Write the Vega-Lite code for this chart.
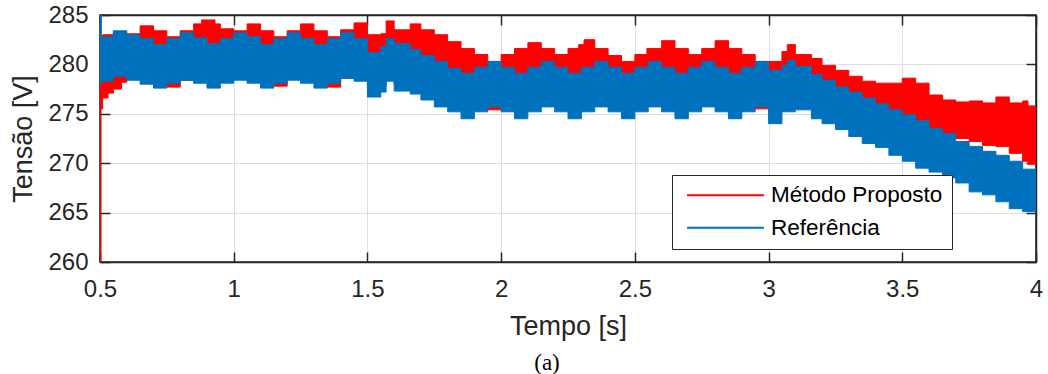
{
  "$schema": "https://vega.github.io/schema/vega-lite/v6.json",
  "width": 936,
  "height": 247,
  "autosize": {"type": "none"},
  "padding": {"left": 100, "top": 15, "right": 12, "bottom": 112},
  "background": "white",
  "title": {"text": "(a)", "orient": "bottom", "anchor": "middle", "font": "Liberation Serif", "fontSize": 23, "fontWeight": "normal", "color": "#000000", "offset": 13, "dx": -21},
  "config": {
    "view": {"stroke": "#262626", "strokeWidth": 1.5},
    "axis": {"labelFont": "Liberation Sans", "titleFont": "Liberation Sans", "labelColor": "#262626", "titleColor": "#262626", "tickColor": "#262626", "domainColor": "#262626", "domainWidth": 1.5, "tickWidth": 1.5, "gridColor": "#dfdfdf", "gridWidth": 1, "titleFontWeight": "normal", "labelFlush": false, "labelOverlap": false}
  },
  "datasets": {
    "tensao": [
      {"serie": "Método Proposto", "tempo": 0.500, "max": 282.0, "min": 260.0},
      {"serie": "Método Proposto", "tempo": 0.503, "max": 282.5, "min": 275.5},
      {"serie": "Método Proposto", "tempo": 0.510, "max": 283.0, "min": 276.6},
      {"serie": "Método Proposto", "tempo": 0.530, "max": 283.0, "min": 277.1},
      {"serie": "Método Proposto", "tempo": 0.550, "max": 283.3, "min": 277.5},
      {"serie": "Método Proposto", "tempo": 0.580, "max": 283.3, "min": 278.2},
      {"serie": "Método Proposto", "tempo": 0.600, "max": 283.1, "min": 278.5},
      {"serie": "Método Proposto", "tempo": 0.650, "max": 283.9, "min": 278.6},
      {"serie": "Método Proposto", "tempo": 0.700, "max": 283.4, "min": 278.3},
      {"serie": "Método Proposto", "tempo": 0.750, "max": 282.8, "min": 277.7},
      {"serie": "Método Proposto", "tempo": 0.800, "max": 283.4, "min": 278.4},
      {"serie": "Método Proposto", "tempo": 0.850, "max": 284.1, "min": 278.6},
      {"serie": "Método Proposto", "tempo": 0.880, "max": 284.5, "min": 278.8},
      {"serie": "Método Proposto", "tempo": 0.930, "max": 284.1, "min": 278.8},
      {"serie": "Método Proposto", "tempo": 0.950, "max": 283.6, "min": 278.3},
      {"serie": "Método Proposto", "tempo": 1.000, "max": 283.4, "min": 278.6},
      {"serie": "Método Proposto", "tempo": 1.050, "max": 284.1, "min": 278.6},
      {"serie": "Método Proposto", "tempo": 1.100, "max": 283.4, "min": 278.3},
      {"serie": "Método Proposto", "tempo": 1.150, "max": 282.8, "min": 277.8},
      {"serie": "Método Proposto", "tempo": 1.200, "max": 283.4, "min": 278.5},
      {"serie": "Método Proposto", "tempo": 1.250, "max": 284.1, "min": 278.6},
      {"serie": "Método Proposto", "tempo": 1.300, "max": 283.4, "min": 278.3},
      {"serie": "Método Proposto", "tempo": 1.350, "max": 282.8, "min": 277.7},
      {"serie": "Método Proposto", "tempo": 1.400, "max": 283.5, "min": 278.6},
      {"serie": "Método Proposto", "tempo": 1.450, "max": 284.2, "min": 278.5},
      {"serie": "Método Proposto", "tempo": 1.500, "max": 283.0, "min": 277.5},
      {"serie": "Método Proposto", "tempo": 1.550, "max": 283.1, "min": 277.8},
      {"serie": "Método Proposto", "tempo": 1.570, "max": 284.4, "min": 278.6},
      {"serie": "Método Proposto", "tempo": 1.600, "max": 283.5, "min": 278.0},
      {"serie": "Método Proposto", "tempo": 1.660, "max": 284.1, "min": 277.6},
      {"serie": "Método Proposto", "tempo": 1.700, "max": 283.5, "min": 277.0},
      {"serie": "Método Proposto", "tempo": 1.750, "max": 283.0, "min": 276.5},
      {"serie": "Método Proposto", "tempo": 1.800, "max": 282.3, "min": 276.0},
      {"serie": "Método Proposto", "tempo": 1.850, "max": 281.6, "min": 275.6},
      {"serie": "Método Proposto", "tempo": 1.900, "max": 281.0, "min": 275.8},
      {"serie": "Método Proposto", "tempo": 1.950, "max": 280.3, "min": 275.4},
      {"serie": "Método Proposto", "tempo": 2.000, "max": 281.0, "min": 275.9},
      {"serie": "Método Proposto", "tempo": 2.050, "max": 281.6, "min": 275.9},
      {"serie": "Método Proposto", "tempo": 2.100, "max": 282.2, "min": 275.9},
      {"serie": "Método Proposto", "tempo": 2.150, "max": 281.6, "min": 275.9},
      {"serie": "Método Proposto", "tempo": 2.200, "max": 281.0, "min": 275.9},
      {"serie": "Método Proposto", "tempo": 2.250, "max": 281.6, "min": 275.9},
      {"serie": "Método Proposto", "tempo": 2.290, "max": 282.0, "min": 275.9},
      {"serie": "Método Proposto", "tempo": 2.310, "max": 282.5, "min": 275.9},
      {"serie": "Método Proposto", "tempo": 2.350, "max": 281.6, "min": 275.9},
      {"serie": "Método Proposto", "tempo": 2.400, "max": 280.9, "min": 275.9},
      {"serie": "Método Proposto", "tempo": 2.450, "max": 280.3, "min": 275.9},
      {"serie": "Método Proposto", "tempo": 2.500, "max": 281.0, "min": 275.9},
      {"serie": "Método Proposto", "tempo": 2.545, "max": 281.6, "min": 275.9},
      {"serie": "Método Proposto", "tempo": 2.600, "max": 282.4, "min": 275.9},
      {"serie": "Método Proposto", "tempo": 2.650, "max": 281.6, "min": 275.9},
      {"serie": "Método Proposto", "tempo": 2.700, "max": 281.0, "min": 275.9},
      {"serie": "Método Proposto", "tempo": 2.750, "max": 281.6, "min": 275.9},
      {"serie": "Método Proposto", "tempo": 2.800, "max": 282.4, "min": 275.9},
      {"serie": "Método Proposto", "tempo": 2.850, "max": 281.6, "min": 275.9},
      {"serie": "Método Proposto", "tempo": 2.900, "max": 281.0, "min": 275.9},
      {"serie": "Método Proposto", "tempo": 2.950, "max": 280.3, "min": 275.5},
      {"serie": "Método Proposto", "tempo": 3.000, "max": 280.3, "min": 275.6},
      {"serie": "Método Proposto", "tempo": 3.050, "max": 281.3, "min": 276.2},
      {"serie": "Método Proposto", "tempo": 3.070, "max": 282.0, "min": 276.2},
      {"serie": "Método Proposto", "tempo": 3.100, "max": 281.0, "min": 276.4},
      {"serie": "Método Proposto", "tempo": 3.160, "max": 280.6, "min": 275.5},
      {"serie": "Método Proposto", "tempo": 3.200, "max": 279.9, "min": 275.0},
      {"serie": "Método Proposto", "tempo": 3.250, "max": 279.4, "min": 274.4},
      {"serie": "Método Proposto", "tempo": 3.300, "max": 278.8, "min": 273.7},
      {"serie": "Método Proposto", "tempo": 3.350, "max": 278.3, "min": 273.0},
      {"serie": "Método Proposto", "tempo": 3.400, "max": 278.1, "min": 272.6},
      {"serie": "Método Proposto", "tempo": 3.450, "max": 278.1, "min": 271.8},
      {"serie": "Método Proposto", "tempo": 3.500, "max": 278.6, "min": 273.5},
      {"serie": "Método Proposto", "tempo": 3.550, "max": 278.1, "min": 273.3},
      {"serie": "Método Proposto", "tempo": 3.600, "max": 276.9, "min": 273.0},
      {"serie": "Método Proposto", "tempo": 3.650, "max": 276.4, "min": 272.8},
      {"serie": "Método Proposto", "tempo": 3.700, "max": 276.2, "min": 272.5},
      {"serie": "Método Proposto", "tempo": 3.750, "max": 276.3, "min": 272.2},
      {"serie": "Método Proposto", "tempo": 3.800, "max": 276.1, "min": 271.8},
      {"serie": "Método Proposto", "tempo": 3.850, "max": 276.7, "min": 271.7},
      {"serie": "Método Proposto", "tempo": 3.900, "max": 276.1, "min": 271.0},
      {"serie": "Método Proposto", "tempo": 3.950, "max": 276.3, "min": 270.2},
      {"serie": "Método Proposto", "tempo": 3.970, "max": 275.8, "min": 269.9},
      {"serie": "Método Proposto", "tempo": 4.000, "max": 275.8, "min": 269.9},
      {"serie": "Referência", "tempo": 0.500, "max": 285.0, "min": 278.0},
      {"serie": "Referência", "tempo": 0.505, "max": 282.8, "min": 278.3},
      {"serie": "Referência", "tempo": 0.550, "max": 283.4, "min": 278.8},
      {"serie": "Referência", "tempo": 0.600, "max": 283.0, "min": 278.4},
      {"serie": "Referência", "tempo": 0.650, "max": 282.6, "min": 278.0},
      {"serie": "Referência", "tempo": 0.700, "max": 282.0, "min": 277.6},
      {"serie": "Referência", "tempo": 0.750, "max": 282.6, "min": 278.1},
      {"serie": "Referência", "tempo": 0.800, "max": 283.2, "min": 278.4},
      {"serie": "Referência", "tempo": 0.850, "max": 282.7, "min": 278.1},
      {"serie": "Referência", "tempo": 0.900, "max": 282.1, "min": 277.6},
      {"serie": "Referência", "tempo": 0.950, "max": 282.6, "min": 278.1},
      {"serie": "Referência", "tempo": 1.000, "max": 283.2, "min": 278.4},
      {"serie": "Referência", "tempo": 1.050, "max": 282.8, "min": 278.1},
      {"serie": "Referência", "tempo": 1.100, "max": 282.0, "min": 277.6},
      {"serie": "Referência", "tempo": 1.150, "max": 282.6, "min": 278.1},
      {"serie": "Referência", "tempo": 1.200, "max": 283.2, "min": 278.4},
      {"serie": "Referência", "tempo": 1.250, "max": 282.6, "min": 278.1},
      {"serie": "Referência", "tempo": 1.300, "max": 282.0, "min": 277.6},
      {"serie": "Referência", "tempo": 1.350, "max": 282.6, "min": 278.1},
      {"serie": "Referência", "tempo": 1.400, "max": 283.2, "min": 278.6},
      {"serie": "Referência", "tempo": 1.450, "max": 282.6, "min": 278.3},
      {"serie": "Referência", "tempo": 1.500, "max": 281.2, "min": 276.7},
      {"serie": "Referência", "tempo": 1.550, "max": 281.8, "min": 277.2},
      {"serie": "Referência", "tempo": 1.570, "max": 282.6, "min": 278.3},
      {"serie": "Referência", "tempo": 1.600, "max": 282.1, "min": 277.3},
      {"serie": "Referência", "tempo": 1.660, "max": 281.5, "min": 277.0},
      {"serie": "Referência", "tempo": 1.700, "max": 280.9, "min": 276.4},
      {"serie": "Referência", "tempo": 1.750, "max": 280.3, "min": 275.7},
      {"serie": "Referência", "tempo": 1.800, "max": 279.6, "min": 275.2},
      {"serie": "Referência", "tempo": 1.850, "max": 279.1, "min": 274.5},
      {"serie": "Referência", "tempo": 1.900, "max": 279.7, "min": 275.2},
      {"serie": "Referência", "tempo": 1.950, "max": 280.3, "min": 275.7},
      {"serie": "Referência", "tempo": 2.000, "max": 279.7, "min": 275.2},
      {"serie": "Referência", "tempo": 2.050, "max": 279.1, "min": 274.5},
      {"serie": "Referência", "tempo": 2.100, "max": 279.7, "min": 275.2},
      {"serie": "Referência", "tempo": 2.150, "max": 280.3, "min": 275.7},
      {"serie": "Referência", "tempo": 2.200, "max": 279.7, "min": 275.2},
      {"serie": "Referência", "tempo": 2.250, "max": 279.1, "min": 274.5},
      {"serie": "Referência", "tempo": 2.300, "max": 279.7, "min": 275.2},
      {"serie": "Referência", "tempo": 2.350, "max": 280.3, "min": 275.7},
      {"serie": "Referência", "tempo": 2.400, "max": 279.7, "min": 275.2},
      {"serie": "Referência", "tempo": 2.450, "max": 279.1, "min": 274.5},
      {"serie": "Referência", "tempo": 2.500, "max": 279.7, "min": 275.2},
      {"serie": "Referência", "tempo": 2.550, "max": 280.3, "min": 275.7},
      {"serie": "Referência", "tempo": 2.600, "max": 279.7, "min": 275.2},
      {"serie": "Referência", "tempo": 2.650, "max": 279.1, "min": 274.5},
      {"serie": "Referência", "tempo": 2.700, "max": 279.7, "min": 275.2},
      {"serie": "Referência", "tempo": 2.750, "max": 280.3, "min": 275.7},
      {"serie": "Referência", "tempo": 2.800, "max": 279.7, "min": 275.2},
      {"serie": "Referência", "tempo": 2.850, "max": 279.1, "min": 274.5},
      {"serie": "Referência", "tempo": 2.900, "max": 279.7, "min": 275.2},
      {"serie": "Referência", "tempo": 2.950, "max": 280.3, "min": 275.7},
      {"serie": "Referência", "tempo": 3.000, "max": 279.4, "min": 274.0},
      {"serie": "Referência", "tempo": 3.050, "max": 279.9, "min": 275.2},
      {"serie": "Referência", "tempo": 3.070, "max": 280.4, "min": 275.2},
      {"serie": "Referência", "tempo": 3.100, "max": 279.8, "min": 275.4},
      {"serie": "Referência", "tempo": 3.160, "max": 279.0, "min": 274.5},
      {"serie": "Referência", "tempo": 3.200, "max": 278.4, "min": 274.0},
      {"serie": "Referência", "tempo": 3.250, "max": 277.7, "min": 273.4},
      {"serie": "Referência", "tempo": 3.300, "max": 277.2, "min": 272.7},
      {"serie": "Referência", "tempo": 3.350, "max": 276.6, "min": 272.0},
      {"serie": "Referência", "tempo": 3.400, "max": 276.0, "min": 271.6},
      {"serie": "Referência", "tempo": 3.450, "max": 275.4, "min": 270.8},
      {"serie": "Referência", "tempo": 3.500, "max": 274.9, "min": 270.2},
      {"serie": "Referência", "tempo": 3.550, "max": 274.3, "min": 269.5},
      {"serie": "Referência", "tempo": 3.600, "max": 273.5, "min": 269.1},
      {"serie": "Referência", "tempo": 3.650, "max": 273.0, "min": 268.5},
      {"serie": "Referência", "tempo": 3.700, "max": 272.2, "min": 268.0},
      {"serie": "Referência", "tempo": 3.750, "max": 271.7, "min": 267.1},
      {"serie": "Referência", "tempo": 3.800, "max": 271.2, "min": 266.8},
      {"serie": "Referência", "tempo": 3.850, "max": 270.8, "min": 266.1},
      {"serie": "Referência", "tempo": 3.900, "max": 270.2, "min": 265.4},
      {"serie": "Referência", "tempo": 3.950, "max": 269.4, "min": 265.1},
      {"serie": "Referência", "tempo": 4.000, "max": 269.4, "min": 265.1}
    ]
  },
  "data": {"name": "tensao"},
  "layer": [
    {
      "transform": [{"filter": "datum.serie === 'Método Proposto'"}],
      "mark": {"type": "area", "interpolate": "step-after", "strokeWidth": 1, "fillOpacity": 1, "clip": true},
      "encoding": {
        "x": {"field": "tempo", "type": "quantitative", "scale": {"domain": [0.5, 4], "nice": false, "zero": false},
          "axis": {"orient": "bottom", "values": [0.5, 1, 1.5, 2, 2.5, 3, 3.5, 4], "format": "~g", "labelFontSize": 24, "labelPadding": 25, "tickSize": -10, "grid": true, "title": "Tempo [s]", "titleFontSize": 27, "titlePadding": 12}},
        "y": {"field": "max", "type": "quantitative", "scale": {"domain": [260, 285], "nice": false, "zero": false},
          "axis": {"orient": "left", "values": [260, 265, 270, 275, 280, 285], "labelFontSize": 24, "labelPadding": 22, "tickSize": -10, "grid": true, "title": "Tensão [V]", "titleFontSize": 27, "titlePadding": 10}},
        "y2": {"field": "min"},
        "fill": {"field": "serie", "type": "nominal", "scale": {"domain": ["Método Proposto", "Referência"], "range": ["#ff0000", "#0072bd"]},
          "legend": {"orient": "none", "legendX": 572, "legendY": 160, "title": null, "symbolType": "M-4.8,0H4.8", "symbolSize": 256, "symbolStrokeWidth": 2, "labelFontSize": 22.5, "labelFont": "Liberation Sans", "labelColor": "#000000", "labelLimit": 400, "fillColor": "white", "strokeColor": "#262626", "padding": 9, "rowPadding": 9.5, "labelOffset": 34.25, "symbolOffset": 33.25}},
        "stroke": {"field": "serie", "type": "nominal", "scale": {"domain": ["Método Proposto", "Referência"], "range": ["#ff0000", "#0072bd"]},
          "legend": {"orient": "none", "legendX": 572, "legendY": 160, "title": null, "symbolType": "M-4.8,0H4.8", "symbolSize": 256, "symbolStrokeWidth": 2, "labelFontSize": 22.5, "labelFont": "Liberation Sans", "labelColor": "#000000", "labelLimit": 400, "fillColor": "white", "strokeColor": "#262626", "padding": 9, "rowPadding": 9.5, "labelOffset": 34.25, "symbolOffset": 33.25}}
      }
    },
    {
      "transform": [{"filter": "datum.serie === 'Referência'"}],
      "mark": {"type": "area", "interpolate": "step-after", "strokeWidth": 1, "fillOpacity": 1, "clip": true},
      "encoding": {
        "x": {"field": "tempo", "type": "quantitative", "scale": {"domain": [0.5, 4], "nice": false, "zero": false},
          "axis": {"orient": "top", "values": [0.5, 1, 1.5, 2, 2.5, 3, 3.5, 4], "labels": false, "tickSize": -10, "grid": false, "title": null}},
        "y": {"field": "max", "type": "quantitative", "scale": {"domain": [260, 285], "nice": false, "zero": false},
          "axis": {"orient": "right", "values": [260, 265, 270, 275, 280, 285], "labels": false, "tickSize": -10, "grid": false, "title": null}},
        "y2": {"field": "min"},
        "fill": {"field": "serie", "type": "nominal", "scale": {"domain": ["Método Proposto", "Referência"], "range": ["#ff0000", "#0072bd"]}},
        "stroke": {"field": "serie", "type": "nominal", "scale": {"domain": ["Método Proposto", "Referência"], "range": ["#ff0000", "#0072bd"]}}
      }
    }
  ],
  "resolve": {"axis": {"x": "independent", "y": "independent"}}
}
